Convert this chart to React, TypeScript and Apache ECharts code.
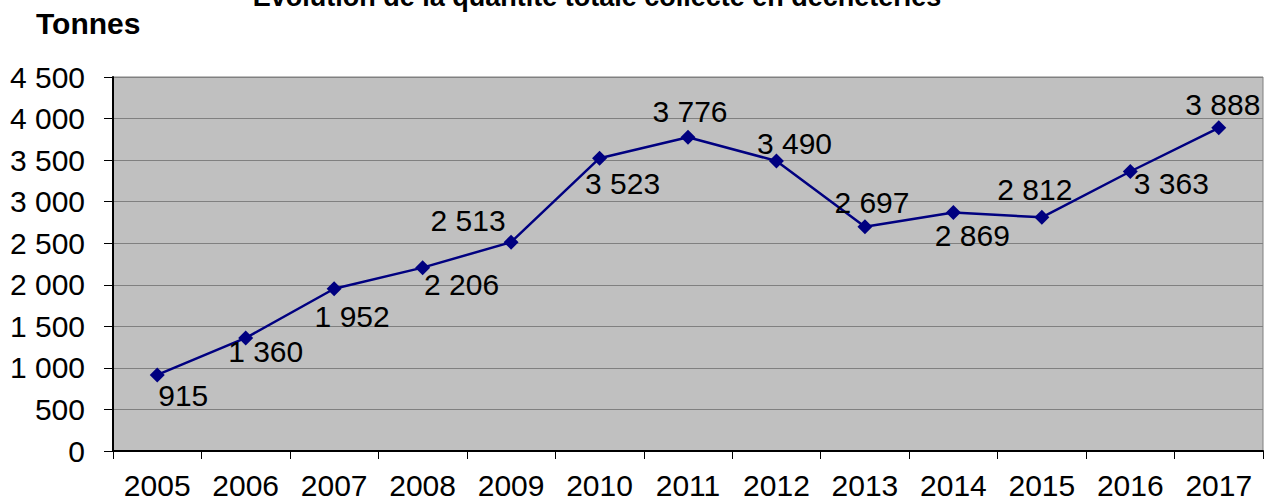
import React, { useEffect, useRef } from "react";
import * as echarts from "echarts";

const years = ["2005", "2006", "2007", "2008", "2009", "2010", "2011", "2012", "2013", "2014", "2015", "2016", "2017"];
const tonnes = [915, 1360, 1952, 2206, 2513, 3523, 3776, 3490, 2697, 2869, 2812, 3363, 3888];
// label offsets (dx, dy) from each marker, matching the reference placement
const labelOffsets: [number, number][] = [
  [26, 21], [20, 14], [18, 28], [39, 17], [-43, -22], [23, 25], [2, -26],
  [18, -17], [7, -24], [19, 23], [-7, -28], [41, 12], [4, -23],
];
const titleText = "Evolution de la quantité totale collecté en déchèteries";
const unitText = "Tonnes";

const FONT = '"Liberation Sans", Arial, Helvetica, sans-serif';
const fmt = (v: number) => String(v).replace(/\B(?=(\d{3})+(?!\d))/g, " ");

export default function App() {
  const ref = useRef<HTMLDivElement>(null);
  useEffect(() => {
    if (!ref.current) return;
    const chart = echarts.init(ref.current, undefined, { renderer: "svg" });
    chart.setOption({
      animation: false,
      backgroundColor: "#ffffff",
      textStyle: { fontFamily: FONT },
      grid: {
        left: 113,
        right: 2,
        top: 77,
        bottom: 48,
        show: true,
        backgroundColor: "#c0c0c0",
        borderColor: "#808080",
        borderWidth: 1,
      },
      graphic: [
        {
          type: "text",
          x: 597,
          y: -3,
          style: {
            text: titleText,
            font: `bold 27px ${FONT}`,
            fill: "#000",
            align: "center",
            verticalAlign: "middle",
          },
        },
        {
          type: "text",
          x: 36,
          y: 23,
          style: {
            text: unitText,
            font: `bold 30px ${FONT}`,
            fill: "#000",
            align: "left",
            verticalAlign: "middle",
          },
        },
      ],
      xAxis: {
        type: "category",
        data: years,
        boundaryGap: true,
        axisLine: { show: true, lineStyle: { color: "#000", width: 2 } },
        axisTick: { show: true, length: 8, interval: 0, lineStyle: { color: "#000", width: 1 } },
        axisLabel: { color: "#000", fontSize: 30, fontFamily: FONT, margin: 19, interval: 0 },
        splitLine: { show: false },
      },
      yAxis: {
        type: "value",
        min: 0,
        max: 4500,
        interval: 500,
        axisLine: { show: true, lineStyle: { color: "#000", width: 2 } },
        axisTick: { show: true, length: 9, lineStyle: { color: "#000", width: 1 } },
        axisLabel: { color: "#000", fontSize: 30, fontFamily: FONT, margin: 28, formatter: (v: number) => fmt(v) },
        splitLine: { show: true, lineStyle: { color: "#808080", width: 1 } },
      },
      series: [
        {
          type: "line",
          data: tonnes.map((v, i) => ({
            value: v,
            label: { offset: labelOffsets[i] },
          })),
          lineStyle: { color: "#000080", width: 2.5 },
          itemStyle: { color: "#000080" },
          symbol: "diamond",
          symbolSize: 15,
          label: {
            show: true,
            position: "inside",
            color: "#000",
            fontSize: 30,
            fontFamily: FONT,
            formatter: (p: any) => fmt(p.value),
          },
          z: 3,
        },
      ],
    });
    return () => chart.dispose();
  }, []);
  return <div ref={ref} style={{ position: "fixed", left: 0, top: 0, width: 1265, height: 500 }} />;
}
